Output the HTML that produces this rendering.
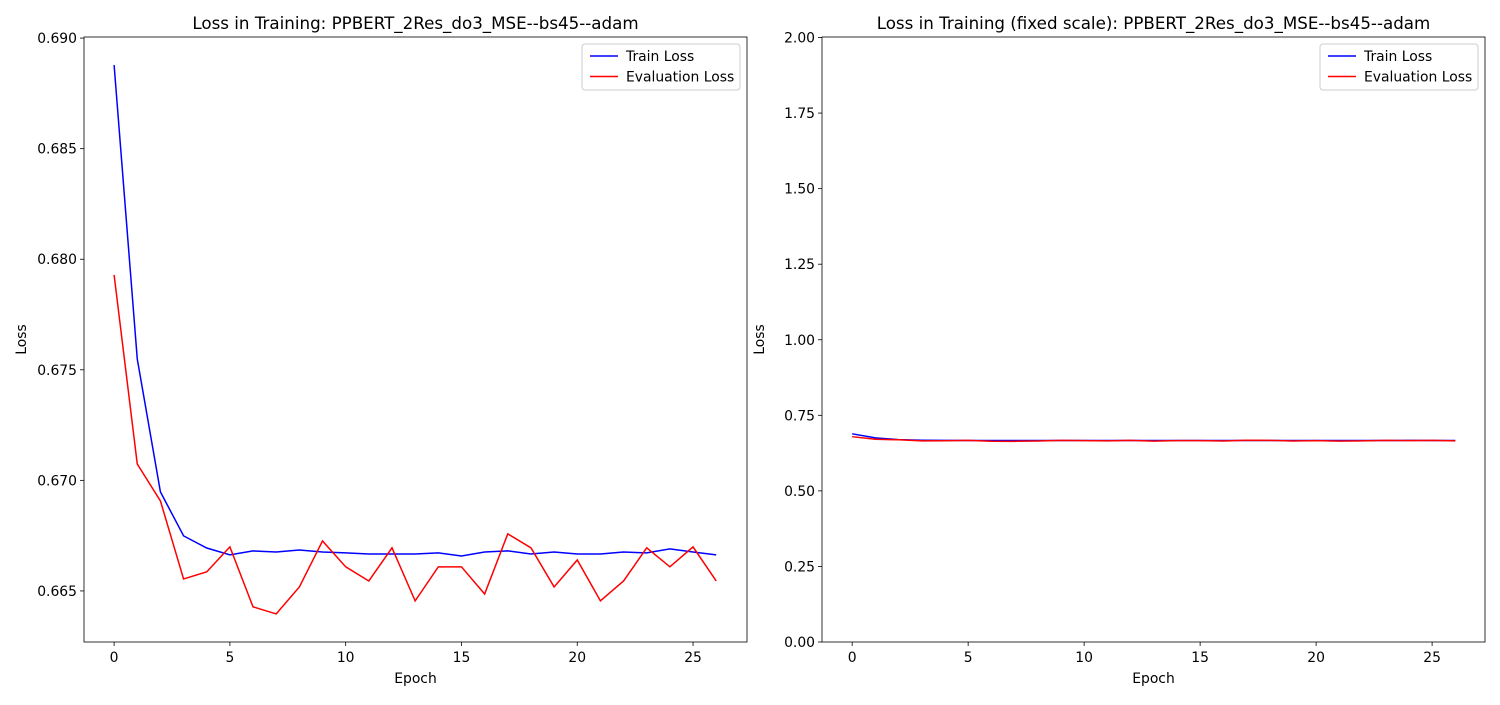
<!DOCTYPE html>
<html><head><meta charset="utf-8"><style>
body{margin:0;background:#fff;width:1500px;height:700px;overflow:hidden}
svg{font-family:"DejaVu Sans","Liberation Sans",sans-serif}
</style></head><body>
<svg id="chart" width="1500" height="700" viewBox="0 0 1500 700"></svg>
<script>
const epochs = [0,1,2,3,4,5,6,7,8,9,10,11,12,13,14,15,16,17,18,19,20,21,22,23,24,25,26];
const trainLoss = [0.68878,0.67549,0.66948,0.66749,0.66694,0.66663,0.66681,0.66676,0.66685,0.66676,0.66672,0.66667,0.66667,0.66667,0.66672,0.66658,0.66676,0.66681,0.66667,0.66676,0.66667,0.66667,0.66676,0.66672,0.6669,0.66676,0.66663];
const evalLoss = [0.67929,0.67074,0.66907,0.66554,0.66586,0.66699,0.66428,0.66396,0.66518,0.66726,0.66609,0.66545,0.66695,0.66455,0.66609,0.66609,0.66486,0.66758,0.66695,0.66518,0.6664,0.66455,0.66545,0.66695,0.66609,0.66699,0.66545];
const xTicks = [0,5,10,15,20,25];
const yTicksLeft = [0.665,0.670,0.675,0.680,0.685,0.690];
const yTicksRight = [0,0.25,0.5,0.75,1.0,1.25,1.5,1.75,2.0];

const svg = document.getElementById('chart');
const NS = 'http://www.w3.org/2000/svg';
function mk(tag, attrs, parent){const e=document.createElementNS(NS,tag);for(const k in attrs)e.setAttribute(k,attrs[k]);(parent||svg).appendChild(e);return e;}

function panel(id, left, right, top, bottom, xmin, xmax, ymin, ymax, yTicks, yFmt, title){
  const g = mk('g',{});
  
  
  const X = v => left + (v - xmin) / (xmax - xmin) * (right - left);
  const Y = v => bottom - (v - ymin) / (ymax - ymin) * (bottom - top);
  xTicks.forEach(t=>{
    const x = X(t);
    mk('line',{x1:x,x2:x,y1:bottom,y2:bottom+4,stroke:'#000','stroke-width':0.8},g);
    const tx = mk('text',{x:x,y:bottom+20,'font-size':13.9,'text-anchor':'middle'},g);
    tx.textContent = t;
    
    
  });
  yTicks.forEach(t=>{
    const y = Y(t);
    mk('line',{x1:left-4,x2:left,y1:y,y2:y,stroke:'#000','stroke-width':0.8},g);
    const tx = mk('text',{x:left-7,y:y+5,'font-size':13.9,'text-anchor':'end'},g);
    tx.textContent = yFmt(t);
    
    
  });
  const series = [[trainLoss,'#0000ff','train-loss-line'],[evalLoss,'#ff0000','eval-loss-line']];
  const clip = mk('clipPath',{id:'clip-'+id},g);
  mk('rect',{x:left,y:top,width:right-left,height:bottom-top},clip);
  series.forEach(([d,c,n])=>{
    const p = mk('polyline',{points:d.map((v,i)=>X(epochs[i])+','+Y(v)).join(' '),fill:'none',stroke:c,'stroke-width':1.5,'clip-path':'url(#clip-'+id+')'},g);
    
    
  });
  mk('rect',{x:left,y:top,width:right-left,height:bottom-top,fill:'none',stroke:'#000','stroke-width':0.8},g);
  const tt = mk('text',{x:(left+right)/2,y:top-8,'font-size':16.7,'text-anchor':'middle'},g);
  tt.textContent = title;
  
  
  const xl = mk('text',{x:(left+right)/2,y:bottom+41,'font-size':13.9,'text-anchor':'middle'},g);
  xl.textContent = 'Epoch';
  
  
  const yl = mk('text',{x:0,y:0,'font-size':13.9,'text-anchor':'middle',transform:`translate(${left-58},${(top+bottom)/2}) rotate(-90)`},g);
  yl.textContent = 'Loss';
  
  
  const lg = mk('g',{},g);
  
  
  const lx = right - 165, ly = top + 7;
  mk('rect',{x:lx,y:ly,width:158,height:46,fill:'#fff',stroke:'#ccc','stroke-width':1,rx:3},lg);
  [['Train Loss','#0000ff'],['Evaluation Loss','#ff0000']].forEach(([t,c],i)=>{
    const yy = ly+12+i*20.5;
    mk('line',{x1:lx+8,x2:lx+36,y1:yy,y2:yy,stroke:c,'stroke-width':1.5},lg);
    const tx = mk('text',{x:lx+44,y:yy+5,'font-size':13.9},lg);
    tx.textContent = t;
    
    
  });
}
panel('left-panel',84,747,37,642,-1.3,27.33,0.66269,0.69005,yTicksLeft,v=>v.toFixed(3),'Loss in Training: PPBERT_2Res_do3_MSE--bs45--adam');
panel('right-panel',822,1485,37,642,-1.3,27.28,0,2.0017,yTicksRight,v=>v.toFixed(2),'Loss in Training (fixed scale): PPBERT_2Res_do3_MSE--bs45--adam');
</script>
</body></html>
